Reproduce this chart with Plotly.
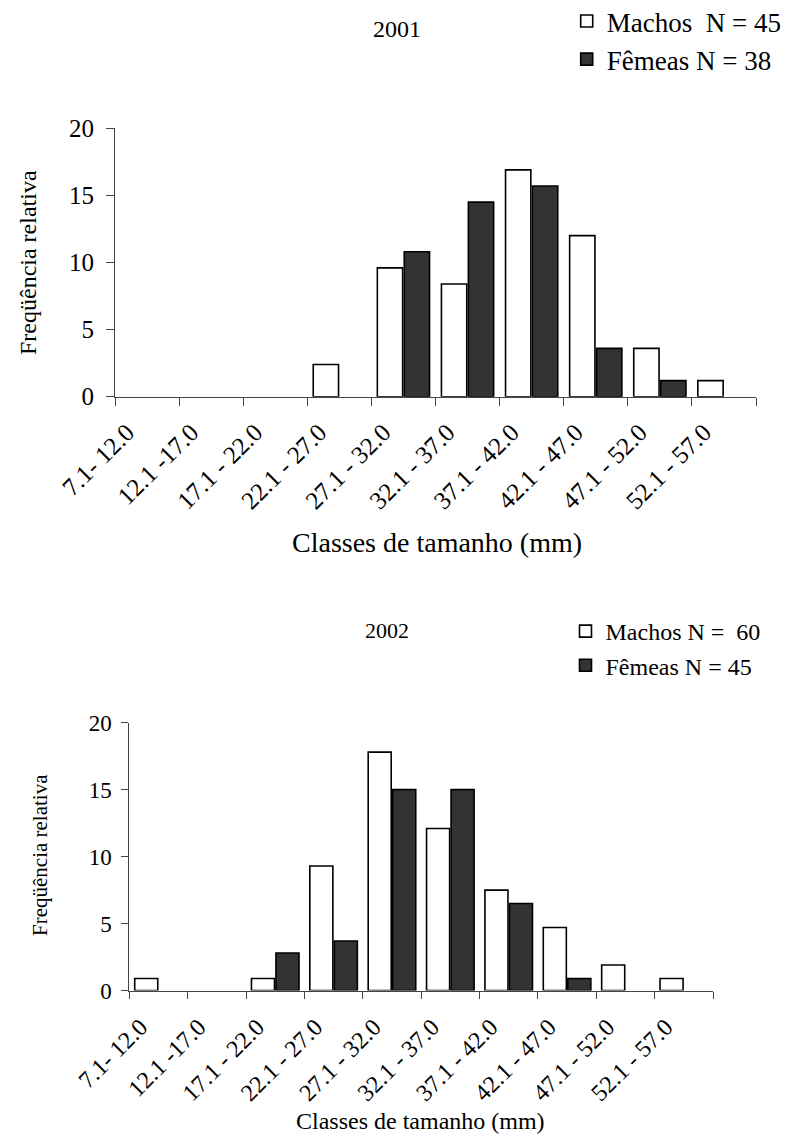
import plotly.graph_objects as go

# Size classes (mm)
classes = ["7.1- 12.0", "12.1 -17.0", "17.1 - 22.0", "22.1 - 27.0", "27.1 - 32.0",
           "32.1 - 37.0", "37.1 - 42.0", "42.1 - 47.0", "47.1 - 52.0", "52.1 - 57.0"]

# Relative frequency (%) per class, 2001
machos_2001 = [0, 0, 0, 2.4, 9.6, 8.4, 16.9, 12.0, 3.6, 1.2]
femeas_2001 = [0, 0, 0, 0, 10.8, 14.5, 15.7, 3.6, 1.2, 0]

# Relative frequency (%) per class, 2002
machos_2002 = [0.9, 0, 0.9, 9.3, 17.8, 12.1, 7.5, 4.7, 1.9, 0.9]
femeas_2002 = [0, 0, 2.8, 3.7, 15.0, 15.0, 6.5, 0.9, 0, 0]

FONT = "Liberation Serif"
W, H = 791, 1135
WHITE = "#ffffff"
DARK = "#333333"
EDGE = "#000000"
AXIS = "#444444"

fig = go.Figure()

def bar(x, y, name, color, xa, ya, legend, group):
    # empty classes are left blank instead of drawing a flat outline on the axis
    shown = [v if v > 0 else None for v in y]
    return go.Bar(x=x, y=shown, name=name, xaxis=xa, yaxis=ya, legend=legend,
                  legendgroup=group,
                  marker=dict(color=color, line=dict(color=EDGE, width=1.6)))

fig.add_trace(bar(classes, machos_2001, "Machos  N = 45", WHITE, "x", "y", "legend", "m1"))
fig.add_trace(bar(classes, femeas_2001, "Fêmeas N = 38", DARK, "x", "y", "legend", "f1"))
fig.add_trace(bar(classes, machos_2002, "Machos N =  60", WHITE, "x2", "y2", "legend2", "m2"))
fig.add_trace(bar(classes, femeas_2002, "Fêmeas N = 45", DARK, "x2", "y2", "legend2", "f2"))

def px_x(v):
    return v / W

def px_y(v):
    return 1 - v / H

def xaxis(dom, anchor, size, ticklen, shift, standoff):
    return dict(domain=dom, anchor=anchor, type="category", tickson="boundaries",
                ticks="outside", ticklen=ticklen, tickwidth=1, tickcolor=AXIS,
                tickangle=-45, ticklabelshift=shift, ticklabelstandoff=standoff,
                showline=True, linecolor=AXIS, linewidth=1.2,
                showgrid=False, zeroline=False, automargin=False,
                tickfont=dict(family=FONT, size=size, color="#000"))

def yaxis(dom, anchor, size, ticklen, standoff):
    return dict(domain=dom, anchor=anchor, range=[0, 20], dtick=5,
                ticks="outside", ticklen=ticklen, tickwidth=1, tickcolor=AXIS,
                ticklabelstandoff=standoff,
                showline=True, linecolor=AXIS, linewidth=1,
                showgrid=False, zeroline=False, automargin=False,
                tickfont=dict(family=FONT, size=size, color="#000"))

TOP_FS = 25
BOT_FS = 23

fig.update_layout(
    width=W, height=H,
    margin=dict(l=0, r=0, t=0, b=0, autoexpand=False),
    font=dict(family=FONT, color="#000"),
    paper_bgcolor="white", plot_bgcolor="white",
    barmode="group", bargap=0.16, bargroupgap=0.06,
    xaxis=xaxis([px_x(115), px_x(756)], "y", TOP_FS, 8, -20, 10),
    yaxis=yaxis([px_y(396.7), px_y(128.3)], "x", TOP_FS, 8, 7),
    xaxis2=xaxis([px_x(129.3), px_x(713)], "y2", 24, 7, -18, 12),
    yaxis2=yaxis([px_y(990.5), px_y(722.7)], "x2", BOT_FS, 7, 5),
    legend=dict(x=px_x(566.7), y=px_y(-3), xanchor="left", yanchor="top",
                traceorder="grouped", tracegroupgap=0,
                font=dict(family=FONT, size=27, color="#000"),
                bgcolor="rgba(0,0,0,0)"),
    legend2=dict(x=px_x(565.5), y=px_y(609), xanchor="left", yanchor="top",
                 traceorder="grouped", tracegroupgap=0,
                 font=dict(family=FONT, size=24, color="#000"),
                 bgcolor="rgba(0,0,0,0)"),
    showlegend=True,
)

def label(text, x, y, size, angle=0):
    fig.add_annotation(text=text, x=px_x(x), y=px_y(y), xref="paper", yref="paper",
                       xanchor="center", yanchor="middle",
                       showarrow=False, textangle=angle,
                       font=dict(family=FONT, size=size, color="#000"))

label("2001", 397, 29, 24)
label("Classes de tamanho (mm)", 437, 542, 28)
label("Freqüência relativa", 28, 263, 24, -90)

label("2002", 387, 630, 22)
label("Classes de tamanho (mm)", 420, 1121, 24)
label("Freqüência relativa", 40, 855, 21, -90)

fig.write_html("out.html")
